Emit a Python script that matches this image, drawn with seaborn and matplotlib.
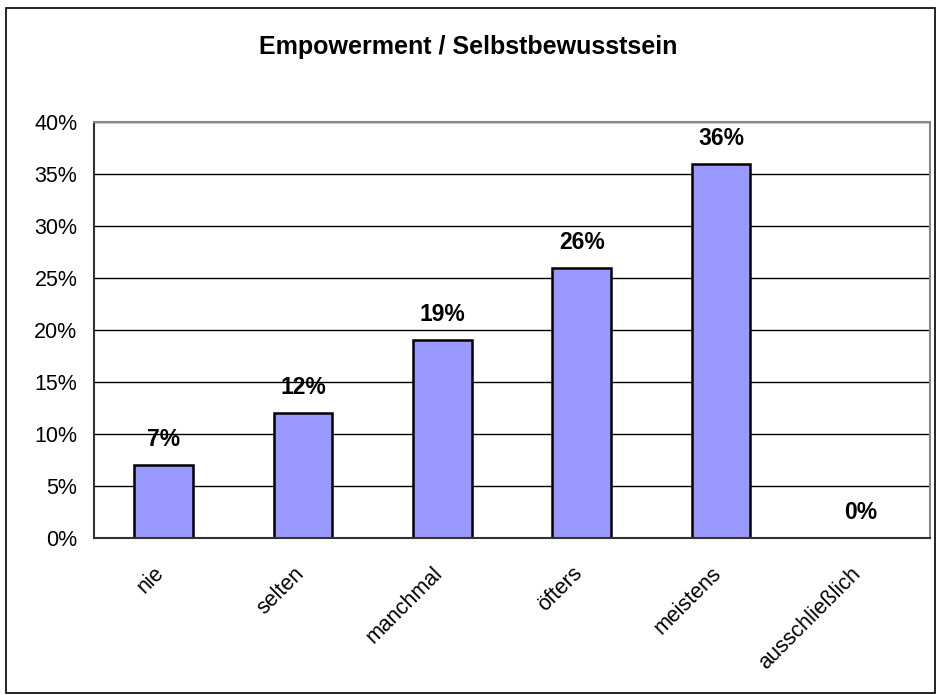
import matplotlib
matplotlib.use("Agg")
import matplotlib.pyplot as plt
import numpy as np
import seaborn as sns
from matplotlib.patches import Rectangle
from matplotlib.ticker import FuncFormatter, MultipleLocator

categories = ["nie", "selten", "manchmal", "öfters", "meistens", "ausschließlich"]
values = [7, 12, 19, 26, 36, 0]
title = "Empowerment / Selbstbewusstsein"

sns.set_style("white")
plt.rcParams['font.family'] = ['Liberation Sans', 'DejaVu Sans']
plt.rcParams['text.color'] = 'black'
plt.rcParams['xtick.color'] = 'black'
plt.rcParams['ytick.color'] = 'black'

fig = plt.figure(figsize=(9.36, 6.95), dpi=100)
ax = fig.add_axes([0.1004, 0.2259, 0.8932, 0.5986])

sns.barplot(x=categories, y=values, color="#9999ff", edgecolor="black",
            linewidth=1.8, width=0.42, saturation=1, ax=ax)

ax.set_ylim(0, 40)
ax.set_xlim(-0.5, len(categories) - 0.5)
ax.yaxis.set_major_locator(MultipleLocator(5))
ax.yaxis.set_major_formatter(FuncFormatter(lambda v, p: f"{v:.0f}%"))
ax.grid(axis="y", color="black", linewidth=1.0)
ax.set_axisbelow(True)
ax.set_xlabel("")
ax.set_ylabel("")

# category boundary ticks on x axis, labels a bit left of bar centres
ax.set_xticks(np.arange(-0.5, len(categories) + 0.5, 1), minor=False)
ax.set_xticklabels([])
ax.set_xticks(np.arange(len(categories)) - 0.07, minor=True)
ax.set_xticklabels(categories, minor=True, rotation=45, ha="right",
                   va="top", rotation_mode="anchor", fontsize=15.5)
ax.tick_params(axis="x", which="major", direction="out", length=6,
               width=1, color="#444444")
ax.tick_params(axis="x", which="minor", length=0, pad=18)
ax.tick_params(axis="y", direction="out", length=4.5, width=1,
               color="#444444", labelsize=15.5, pad=7.5)

for side in ["left", "bottom"]:
    ax.spines[side].set_color("#333333")
    ax.spines[side].set_linewidth(1.5)
for side in ["top", "right"]:
    ax.spines[side].set_visible(True)
    ax.spines[side].set_color("#888888")
    ax.spines[side].set_linewidth(1.5)

for i, v in enumerate(values):
    ax.annotate(f"{v}%", (i, v), xytext=(0, 10), textcoords="offset points",
                ha="center", va="bottom", fontsize=16.5, fontweight="bold")

fig.text(0.5, 0.932, title, ha="center", va="center", fontsize=18,
         fontweight="bold")

fig.patches.append(Rectangle((0.006, 0.003), 0.993, 0.986,
                             transform=fig.transFigure, fill=False,
                             edgecolor="black", linewidth=1.2))

fig.savefig("out.png", dpi=100)
